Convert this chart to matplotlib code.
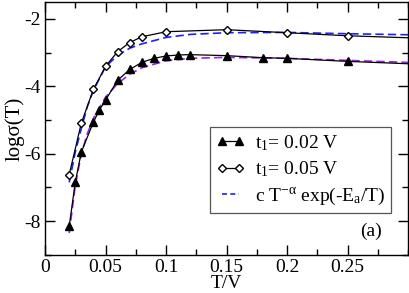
import numpy as np
import matplotlib.pyplot as plt
from matplotlib.ticker import MultipleLocator

plt.rcParams['font.family'] = ['Liberation Serif', 'DejaVu Serif']
plt.rcParams['mathtext.fontset'] = 'custom'
plt.rcParams['mathtext.rm'] = 'Liberation Serif'
plt.rcParams['mathtext.it'] = 'Liberation Serif'
plt.rcParams['axes.unicode_minus'] = False

# t1 = 0.02 V (triangles)
T_a = [0.02, 0.025, 0.03, 0.04, 0.045, 0.05, 0.06, 0.07, 0.08, 0.09, 0.1, 0.11, 0.12,
       0.15, 0.18, 0.2, 0.25, 0.3]
s_a = [-8.15, -6.85, -5.95, -5.06, -4.70, -4.41, -3.82, -3.50, -3.29, -3.17, -3.10, -3.07,
       -3.06, -3.09, -3.15, -3.17, -3.26, -3.33]

# t1 = 0.05 V (diamonds)
T_b = [0.02, 0.03, 0.04, 0.05, 0.06, 0.07, 0.08, 0.1, 0.15, 0.2, 0.25, 0.3]
s_b = [-6.62, -5.09, -4.09, -3.41, -2.97, -2.70, -2.53, -2.38, -2.32, -2.41, -2.50, -2.56]

# fits c T^-alpha exp(-Ea/T)
T_fit = [0.02, 0.025, 0.03, 0.035, 0.04, 0.05, 0.06, 0.07, 0.08, 0.1, 0.12, 0.15, 0.2, 0.25, 0.3]
fit_a = [-8.35, -6.95, -6.0, -5.4, -4.95, -4.32, -3.92, -3.64, -3.45, -3.24, -3.17, -3.14,
         -3.17, -3.23, -3.29]
fit_b = [-6.85, -5.95, -5.25, -4.6, -4.12, -3.42, -3.08, -2.87, -2.74, -2.55, -2.46, -2.41,
         -2.40, -2.44, -2.47]

fig = plt.figure(figsize=(4.09, 2.93), dpi=100)
ax = fig.add_axes([0.11, 0.13, 0.888, 0.863])

ax.plot(T_fit, fit_a, '--', color='#a020f0', lw=1.2, dashes=(5, 2.5))
ax.plot(T_fit, fit_b, '--', color='#1f1fff', lw=1.2, dashes=(5, 2.5))
ax.plot(T_a, s_a, '-', color='k', lw=0.9, marker='^', ms=6, mfc='k',
        markevery=list(range(len(T_a) - 1)))
ax.plot(T_b, s_b, '-', color='k', lw=0.9, marker='D', ms=4.5, mfc='white', mew=1,
        markevery=list(range(len(T_b) - 1)))

# legend proxies
h1, = ax.plot([], [], '-', color='k', lw=0.9, marker='^', ms=6, mfc='k')
h2, = ax.plot([], [], '-', color='k', lw=0.9, marker='D', ms=4, mfc='white')
h3, = ax.plot([], [], '--', color='#1f1fff', lw=1.2, dashes=(3, 2))
leg = ax.legend([h1, h2, h3],
                ['t$_1$= 0.02 V', 't$_1$= 0.05 V', r'c T$^{-\alpha}$ exp(-E$_{a}$/T)'],
                loc='lower right', bbox_to_anchor=(0.953, 0.166), fontsize=14,
                numpoints=2, handlelength=1.5, handletextpad=0.5, borderpad=0.3,
                borderaxespad=0, labelspacing=0.35, fancybox=False,
                edgecolor='#555555', framealpha=1)
leg.get_frame().set_linewidth(0.9)

ax.text(0.2785, -8.29, '(a)', fontsize=14, ha='right', va='center')

ax.set_xlim(0, 0.3)
ax.set_ylim(-9, -1.5)
ax.xaxis.set_major_locator(MultipleLocator(0.05))
ax.xaxis.set_minor_locator(MultipleLocator(0.025))
ax.yaxis.set_major_locator(MultipleLocator(2))
ax.yaxis.set_minor_locator(MultipleLocator(1))
ax.set_xticks([0, 0.05, 0.1, 0.15, 0.2, 0.25])
ax.set_xticklabels(['0', '0.05', '0.1', '0.15', '0.2', '0.25'])
ax.tick_params(which='both', direction='in', top=True, right=True, labelsize=14, width=1)
ax.tick_params(which='major', length=7, pad=3)
ax.tick_params(which='minor', length=4)
for sp in ax.spines.values():
    sp.set_linewidth(1)

ax.set_xlabel('T/V', fontsize=14, labelpad=-1)
ax.set_ylabel('log\u03c3(T)', fontsize=15, labelpad=0)

fig.savefig('out.png', dpi=100)
